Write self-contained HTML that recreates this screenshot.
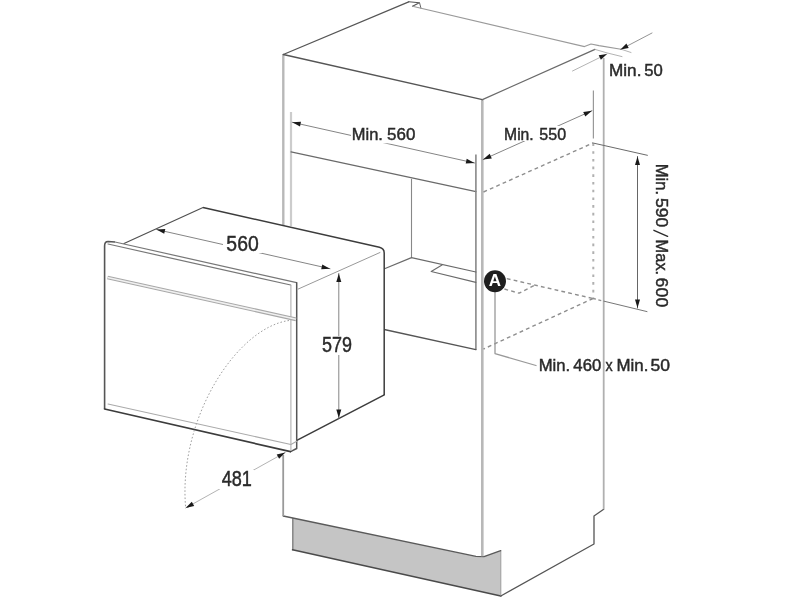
<!DOCTYPE html>
<html><head><meta charset="utf-8"><style>
html,body{margin:0;padding:0;background:#fff;}
svg{display:block;filter:blur(0.3px);font-family:"Liberation Sans",sans-serif;}
</style></head><body>
<svg width="800" height="600" viewBox="0 0 800 600">
<rect width="800" height="600" fill="#fff"/>
<path d="M292.5,517.9 L476,556.4 L484,556.6 L500.7,550.7 L500.7,596 L292.5,549.8 Z" fill="#c5c5c5" stroke="none" stroke-width="0" stroke-linejoin="round"/>
<path d="M292.8,518.5 L292.8,549.8" fill="none" stroke="#8a8a8a" stroke-width="1.6" stroke-linecap="round" stroke-linejoin="round"/>
<path d="M292.5,549.8 L500.8,596.0" fill="none" stroke="#4a4a4a" stroke-width="1.5" stroke-linecap="round" stroke-linejoin="round"/>
<path d="M500.8,551.0 L500.8,596.0" fill="none" stroke="#9a9a9a" stroke-width="1.0" stroke-linecap="round" stroke-linejoin="round"/>
<path d="M283.2,516.0 L476.0,556.4 L484.0,556.6 L500.7,550.7" fill="none" stroke="#5a5a5a" stroke-width="1.4" stroke-linecap="round" stroke-linejoin="round"/>
<path d="M500.8,596.0 L594.0,544.0 L594.0,516.0 L603.7,509.3" fill="none" stroke="#555" stroke-width="1.3" stroke-linecap="round" stroke-linejoin="round"/>
<path d="M283.3,54.5 L283.3,226.0" fill="none" stroke="#b8b8b8" stroke-width="2.4" stroke-linecap="butt" stroke-linejoin="round"/>
<path d="M283.2,455.0 L283.2,516.0" fill="none" stroke="#9a9a9a" stroke-width="1.8" stroke-linecap="butt" stroke-linejoin="round"/>
<path d="M482.3,99.6 L482.3,556.3" fill="none" stroke="#b8b8b8" stroke-width="2.6" stroke-linecap="butt" stroke-linejoin="round"/>
<path d="M603.7,58.0 L603.7,509.3" fill="none" stroke="#b0b0b0" stroke-width="1.8" stroke-linecap="butt" stroke-linejoin="round"/>
<path d="M283.3,54.5 L408.7,1.8" fill="none" stroke="#555" stroke-width="1.25" stroke-linecap="round" stroke-linejoin="round"/>
<path d="M283.3,54.5 L482.4,99.6" fill="none" stroke="#555" stroke-width="1.4" stroke-linecap="round" stroke-linejoin="round"/>
<path d="M482.4,99.6 L595.0,49.4" fill="none" stroke="#6a6a6a" stroke-width="1.3" stroke-linecap="round" stroke-linejoin="round"/>
<path d="M408.7,1.8 L419.4,2.8 L412.5,6.3" fill="none" stroke="#555" stroke-width="1.1" stroke-linecap="round" stroke-linejoin="round"/>
<path d="M419.6,3.0 L421.0,8.4" fill="none" stroke="#666" stroke-width="1.0" stroke-linecap="round" stroke-linejoin="round"/>
<path d="M412.5,6.3 L584.5,46.6 L591.0,44.0 L599.0,45.6 L621.0,49.2" fill="none" stroke="#9a9a9a" stroke-width="1.1" stroke-linecap="round" stroke-linejoin="round"/>
<path d="M595.0,49.4 L607.0,52.9 L622.0,56.6" fill="none" stroke="#aaa" stroke-width="0.9" stroke-linecap="round" stroke-linejoin="round"/>
<path d="M621.0,49.2 L631.0,52.5" fill="none" stroke="#aaa" stroke-width="0.9" stroke-linecap="round" stroke-linejoin="round"/>
<path d="M620.5,49.5 L652.0,33.0" fill="none" stroke="#888" stroke-width="0.9" stroke-linecap="round" stroke-linejoin="round"/>
<path d="M620.5,49.5 L626.4,43.6 L628.7,48.0 Z" fill="#1a1a1a"/>
<path d="M607.0,54.0 L572.5,71.0" fill="none" stroke="#aaa" stroke-width="0.9" stroke-linecap="round" stroke-linejoin="round"/>
<path d="M607.0,54.0 L600.9,59.8 L598.7,55.3 Z" fill="#1a1a1a"/>
<path d="M291.0,112.0 L291.0,226.0" fill="none" stroke="#cccccc" stroke-width="2.2" stroke-linecap="butt" stroke-linejoin="round"/>
<path d="M291.0,151.8 L476.0,191.7" fill="none" stroke="#6a6a6a" stroke-width="1.2" stroke-linecap="round" stroke-linejoin="round"/>
<path d="M475.9,154.4 L475.9,349.7" fill="none" stroke="#888" stroke-width="1.6" stroke-linecap="butt" stroke-linejoin="round"/>
<path d="M411.5,178.8 L411.5,257.6" fill="none" stroke="#888" stroke-width="1.1" stroke-linecap="butt" stroke-linejoin="round"/>
<path d="M384.5,268.8 L411.5,257.6 L475.9,272.0" fill="none" stroke="#6a6a6a" stroke-width="1.2" stroke-linecap="round" stroke-linejoin="round"/>
<path d="M442.0,265.0 L431.2,271.5 L475.9,282.4" fill="none" stroke="#6a6a6a" stroke-width="1.1" stroke-linecap="round" stroke-linejoin="round"/>
<path d="M384.2,329.5 L475.9,349.7" fill="none" stroke="#555" stroke-width="1.3" stroke-linecap="round" stroke-linejoin="round"/>
<path d="M483.5,192.0 L593.0,143.0" fill="none" stroke="#8e8e8e" stroke-width="1.4" stroke-linecap="butt" stroke-linejoin="round" stroke-dasharray="3.8 3.2"/>
<path d="M593.3,143.5 L593.3,298.0" fill="none" stroke="#b0b0b0" stroke-width="2" stroke-linecap="butt" stroke-linejoin="round" stroke-dasharray="2.6 5.1"/>
<path d="M593.4,90.5 L593.4,138.5" fill="none" stroke="#999" stroke-width="1.2" stroke-linecap="butt" stroke-linejoin="round"/>
<path d="M593.0,298.5 L483.5,349.0" fill="none" stroke="#8e8e8e" stroke-width="1.4" stroke-linecap="butt" stroke-linejoin="round" stroke-dasharray="3.8 3.2"/>
<path d="M506.8,278.6 L593.0,298.5" fill="none" stroke="#8e8e8e" stroke-width="1.4" stroke-linecap="butt" stroke-linejoin="round" stroke-dasharray="3.8 3.2"/>
<path d="M504.4,289.0 L519.0,293.2 L535.2,285.0" fill="none" stroke="#8e8e8e" stroke-width="1.4" stroke-linecap="butt" stroke-linejoin="round" stroke-dasharray="3.8 3.2"/>
<path d="M593.0,143.0 L647.4,155.3" fill="none" stroke="#6a6a6a" stroke-width="1" stroke-linecap="round" stroke-linejoin="round"/>
<path d="M593.0,298.5 L604.0,301.2" fill="none" stroke="#8e8e8e" stroke-width="1.3" stroke-linecap="butt" stroke-linejoin="round" stroke-dasharray="3 2.5"/>
<path d="M604.0,301.2 L647.0,311.6" fill="none" stroke="#777" stroke-width="1" stroke-linecap="round" stroke-linejoin="round"/>
<path d="M637.5,156.5 L637.5,308.0" fill="none" stroke="#666" stroke-width="1" stroke-linecap="round" stroke-linejoin="round"/>
<path d="M637.5,156.5 L640.0,165.0 L635.0,165.0 Z" fill="#1a1a1a"/>
<path d="M637.5,308.0 L635.0,299.5 L640.0,299.5 Z" fill="#1a1a1a"/>
<path d="M495.0,292.0 L495.0,353.6 L536.0,365.5" fill="none" stroke="#999" stroke-width="1.3" stroke-linecap="round" stroke-linejoin="round"/>
<circle cx="495" cy="281.2" r="11" fill="#1e1e1e"/>
<text x="495" y="286.0" font-size="17" font-weight="bold" fill="#fff" text-anchor="middle">A</text>
<path d="M292.2,122.3 L474.5,163.0" fill="none" stroke="#858585" stroke-width="1" stroke-linecap="round" stroke-linejoin="round"/>
<path d="M292.2,122.3 L301.0,121.7 L300.0,126.6 Z" fill="#1a1a1a"/>
<path d="M474.5,163.0 L465.7,163.6 L466.7,158.7 Z" fill="#1a1a1a"/>
<rect x="351" y="126" width="66" height="17.30000000000001" fill="#fff"/>
<path d="M483.0,159.6 L592.0,110.7" fill="none" stroke="#858585" stroke-width="1" stroke-linecap="round" stroke-linejoin="round"/>
<path d="M483.0,159.6 L489.7,153.8 L491.8,158.4 Z" fill="#1a1a1a"/>
<path d="M592.0,110.7 L585.3,116.5 L583.2,111.9 Z" fill="#1a1a1a"/>
<rect x="502" y="126" width="67" height="15" fill="#fff"/>
<path d="M653.9,230.3 L667.6,236.4" fill="none" stroke="#2a2a2a" stroke-width="1.35" stroke-linecap="round" stroke-linejoin="round"/>
<text x="0" y="0" font-size="16.4" textLength="31.3" lengthAdjust="spacingAndGlyphs" fill="#2a2a2a" stroke="#2a2a2a" stroke-width="0.45" transform="translate(655.8,163.8) rotate(90)">Min.</text>
<text x="0" y="0" font-size="16.4" textLength="29.4" lengthAdjust="spacingAndGlyphs" fill="#2a2a2a" stroke="#2a2a2a" stroke-width="0.45" transform="translate(655.8,197.9) rotate(90)">590</text>
<text x="0" y="0" font-size="16.4" textLength="35.6" lengthAdjust="spacingAndGlyphs" fill="#2a2a2a" stroke="#2a2a2a" stroke-width="0.45" transform="translate(655.8,239.6) rotate(90)">Max.</text>
<text x="0" y="0" font-size="16.4" textLength="29.7" lengthAdjust="spacingAndGlyphs" fill="#2a2a2a" stroke="#2a2a2a" stroke-width="0.45" transform="translate(655.8,277.6) rotate(90)">600</text>
<path d="M124,243.5 L203,207.5 L379.4,247.3 Q384.2,248.5 384.2,253 L384.2,395 L296.8,440.4 L296.8,282.7 Z" fill="#fff" stroke="none" stroke-width="0" stroke-linejoin="round"/>
<path d="M104.6,246 Q104.6,241.5 108,241.5 L296.6,282.7 L296.7,448.5 L290.5,451.6 L104.6,409 Z" fill="#fff" stroke="none" stroke-width="0" stroke-linejoin="round"/>
<path d="M124.0,243.5 L203.0,207.5" fill="none" stroke="#505050" stroke-width="1.2" stroke-linecap="round" stroke-linejoin="round"/>
<path d="M203,207.5 L379.4,247.3 Q384.2,248.5 384.2,253 L384.2,395" fill="none" stroke="#3c3c3c" stroke-width="1.5" stroke-linejoin="round"/>
<path d="M296.8,440.4 L384.3,394.9" fill="none" stroke="#3c3c3c" stroke-width="1.5" stroke-linecap="round" stroke-linejoin="round"/>
<path d="M298.3,289.0 L380.0,252.5" fill="none" stroke="#999" stroke-width="1.0" stroke-linecap="round" stroke-linejoin="round"/>
<path d="M104.6,409 L104.6,246 Q104.6,241.5 108,241.5 L115,242" fill="none" stroke="#555" stroke-width="1.6" stroke-linejoin="round"/>
<path d="M115.0,242.0 L296.6,282.7" fill="none" stroke="#777" stroke-width="1.2" stroke-linecap="round" stroke-linejoin="round"/>
<path d="M108.0,244.0 L290.7,285.0" fill="none" stroke="#777" stroke-width="1.2" stroke-linecap="round" stroke-linejoin="round"/>
<path d="M296.7,282.7 L296.7,448.5 L290.5,451.6" fill="none" stroke="#555" stroke-width="1.5" stroke-linecap="round" stroke-linejoin="round"/>
<path d="M104.6,409.0 L290.5,451.6" fill="none" stroke="#3c3c3c" stroke-width="1.7" stroke-linecap="round" stroke-linejoin="round"/>
<path d="M290.9,285.5 L290.9,450.5" fill="none" stroke="#b0b0b0" stroke-width="1.1" stroke-linecap="round" stroke-linejoin="round"/>
<path d="M108.0,404.0 L290.9,444.5 L296.7,441.3" fill="none" stroke="#aaa" stroke-width="1.1" stroke-linecap="round" stroke-linejoin="round"/>
<path d="M107.5,277.5 L296.0,319.3" fill="none" stroke="#a8a8a8" stroke-width="3.8" stroke-linecap="butt" stroke-linejoin="round"/>
<path d="M107.5,277.5 L296.0,319.3" fill="none" stroke="#f0f0f0" stroke-width="1.6" stroke-linecap="butt" stroke-linejoin="round"/>
<path d="M289,320.5 C237,327.7 178.2,418 185.6,507" fill="none" stroke="#a0a0a0" stroke-width="1.0" stroke-linejoin="round" stroke-dasharray="1.6 2"/>
<path d="M156.5,229.5 L330.0,268.7" fill="none" stroke="#858585" stroke-width="1" stroke-linecap="round" stroke-linejoin="round"/>
<path d="M156.5,229.5 L165.3,228.9 L164.2,233.8 Z" fill="#1a1a1a"/>
<path d="M330.0,268.7 L321.2,269.3 L322.3,264.4 Z" fill="#1a1a1a"/>
<rect x="223" y="234" width="39" height="19" fill="#fff"/>
<path d="M338.8,273.4 L338.8,418.0" fill="none" stroke="#858585" stroke-width="1" stroke-linecap="round" stroke-linejoin="round"/>
<path d="M338.8,273.4 L341.3,281.9 L336.3,281.9 Z" fill="#1a1a1a"/>
<path d="M338.8,418.0 L336.3,409.5 L341.3,409.5 Z" fill="#1a1a1a"/>
<rect x="320" y="336" width="34" height="19" fill="#fff"/>
<path d="M285.3,452.4 L185.6,508.0" fill="none" stroke="#aaa" stroke-width="0.9" stroke-linecap="round" stroke-linejoin="round"/>
<path d="M285.3,452.4 L279.1,458.7 L276.7,454.4 Z" fill="#1a1a1a"/>
<path d="M185.6,508.0 L191.8,501.7 L194.2,506.0 Z" fill="#1a1a1a"/>
<rect x="219" y="470" width="35" height="19" fill="#fff"/>
<text x="351.79" y="140.1" font-size="16.6" textLength="31.08" lengthAdjust="spacingAndGlyphs" fill="#2a2a2a" stroke="#2a2a2a" stroke-width="0.45" font-weight="normal">Min.</text>
<text x="387.06" y="140.1" font-size="16.6" textLength="28.27" lengthAdjust="spacingAndGlyphs" fill="#2a2a2a" stroke="#2a2a2a" stroke-width="0.45" font-weight="normal">560</text>
<text x="504.1" y="139.8" font-size="16.6" textLength="29.6" lengthAdjust="spacingAndGlyphs" fill="#2a2a2a" stroke="#2a2a2a" stroke-width="0.45" font-weight="normal">Min.</text>
<text x="539.29" y="139.8" font-size="16.6" textLength="26.8" lengthAdjust="spacingAndGlyphs" fill="#2a2a2a" stroke="#2a2a2a" stroke-width="0.45" font-weight="normal">550</text>
<text x="609.03" y="75.5" font-size="16.6" textLength="32.4" lengthAdjust="spacingAndGlyphs" fill="#2a2a2a" stroke="#2a2a2a" stroke-width="0.45" font-weight="normal">Min.</text>
<text x="644.27" y="75.5" font-size="16.6" textLength="18.55" lengthAdjust="spacingAndGlyphs" fill="#2a2a2a" stroke="#2a2a2a" stroke-width="0.45" font-weight="normal">50</text>
<text x="538.77" y="371.4" font-size="16.6" textLength="31.41" lengthAdjust="spacingAndGlyphs" fill="#2a2a2a" stroke="#2a2a2a" stroke-width="0.45" font-weight="normal">Min.</text>
<text x="573.35" y="371.4" font-size="16.6" textLength="27.87" lengthAdjust="spacingAndGlyphs" fill="#2a2a2a" stroke="#2a2a2a" stroke-width="0.45" font-weight="normal">460</text>
<text x="605.57" y="371.4" font-size="16.6" textLength="7.14" lengthAdjust="spacingAndGlyphs" fill="#2a2a2a" stroke="#2a2a2a" stroke-width="0.45" font-weight="normal">x</text>
<text x="616.55" y="371.4" font-size="16.6" textLength="31.85" lengthAdjust="spacingAndGlyphs" fill="#2a2a2a" stroke="#2a2a2a" stroke-width="0.45" font-weight="normal">Min.</text>
<text x="650.43" y="371.4" font-size="16.6" textLength="19.52" lengthAdjust="spacingAndGlyphs" fill="#2a2a2a" stroke="#2a2a2a" stroke-width="0.45" font-weight="normal">50</text>
<text x="226.36" y="251" font-size="22" textLength="32.36" lengthAdjust="spacingAndGlyphs" fill="#2a2a2a" stroke="#2a2a2a" stroke-width="0.45" font-weight="normal">560</text>
<text x="322.02" y="352.3" font-size="22" textLength="30.0" lengthAdjust="spacingAndGlyphs" fill="#2a2a2a" stroke="#2a2a2a" stroke-width="0.45" font-weight="normal">579</text>
<text x="221.72" y="485.9" font-size="22" textLength="30.23" lengthAdjust="spacingAndGlyphs" fill="#2a2a2a" stroke="#2a2a2a" stroke-width="0.45" font-weight="normal">481</text>
</svg></body></html>
